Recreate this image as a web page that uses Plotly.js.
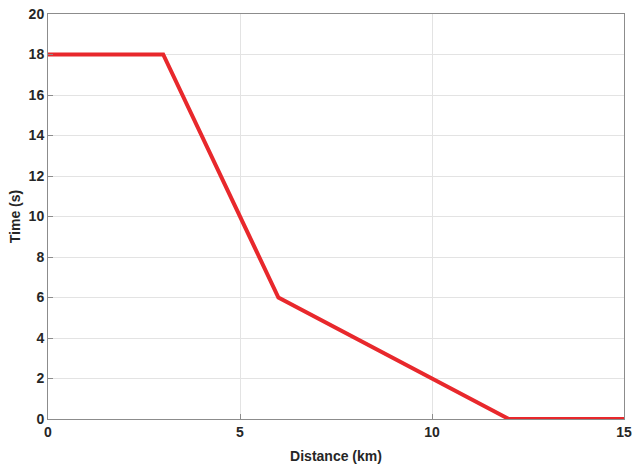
<!DOCTYPE html>
<html>
<head>
<meta charset="utf-8">
<script src="https://cdn.plot.ly/plotly-3.0.1.min.js"></script>
<style>html,body{margin:0;padding:0;background:#fff;}#chart{width:635px;height:466px;}</style>
</head>
<body>
<div id="chart"></div>
<script>
const distance = [0, 3, 6, 12, 15];
const time = [18, 18, 6, 0, 0];
const xTicks = [0, 5, 10, 15];
const yTicks = [0, 2, 4, 6, 8, 10, 12, 14, 16, 18, 20];

const axisCommon = {
  showgrid: true,
  gridcolor: '#e3e3e3',
  gridwidth: 1,
  zeroline: false,
  showline: true,
  linecolor: '#8c8c8c',
  linewidth: 1,
  mirror: true,
  ticks: 'inside',
  ticklen: 5,
  tickcolor: '#8c8c8c',
  tickfont: {family: 'Liberation Sans, Arial, sans-serif', size: 14, color: '#262626', weight: 'bold'}
};

Plotly.newPlot('chart', [{
  x: distance,
  y: time,
  type: 'scatter',
  mode: 'lines',
  line: {color: '#e8282c', width: 4},
  showlegend: false
}], {
  width: 635,
  height: 466,
  margin: {l: 48, r: 11, t: 14, b: 47},
  paper_bgcolor: '#fff',
  plot_bgcolor: '#fff',
  xaxis: Object.assign({}, axisCommon, {
    range: [0, 15],
    tickvals: xTicks,
    ticktext: xTicks.map(String),
    title: {text: 'Distance (km)', standoff: 12, font: {family: 'Liberation Sans, Arial, sans-serif', size: 14, color: '#262626', weight: 'bold'}}
  }),
  yaxis: Object.assign({}, axisCommon, {
    range: [0, 20],
    tickvals: yTicks,
    ticktext: yTicks.map(String),
    title: {text: 'Time (s)', standoff: 4, font: {family: 'Liberation Sans, Arial, sans-serif', size: 14, color: '#262626', weight: 'bold'}}
  })
}, {displayModeBar: false, staticPlot: true});
</script>
</body>
</html>
